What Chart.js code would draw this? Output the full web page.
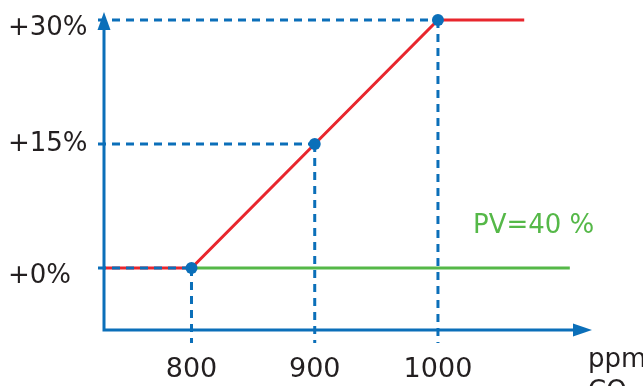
<!DOCTYPE html>
<html><head><meta charset="utf-8">
<script src="https://cdn.jsdelivr.net/npm/chart.js@4"></script>
<style>html,body{margin:0;background:#fff}canvas{display:block}</style>
</head><body>
<canvas id="c" width="643" height="386"></canvas>
<script>
// CO2 concentration breakpoints (ppm) and the matching output boost (%)
const co2Ppm = [800, 900, 1000];
const boostPct = [0, 15, 30];
// red curve: flat below 800 ppm, ramps up to +30 % at 1000 ppm, flat above
const curvePpm = [729, 800, 900, 1000, 1070];
const curvePct = [0, 0, 15, 30, 30];
// green base line
const basePpm = [800, 1107];
const basePct = [0, 0];
// axis ticks and texts
const xTicks = [800, 900, 1000];
const yTicks = [0, 15, 30];
const yTickLabels = ['+0%', '+15%', '+30%'];
const baseLabel = 'PV=40 %';
const unitLines = ['ppm', 'CO₂'];

const BLUE = '#0b6fb9', RED = '#e8262d', GREEN = '#55b848', TEXT = '#231f20';
const FONT = '"DejaVu Sans", sans-serif';

const toPts = (xs, ys) => xs.map((v, i) => ({x: v, y: ys[i]}));

const guides = {
  id: 'guides',
  // dashed reference lines go above the red curve but below the dots
  afterDatasetDraw(chart, args) {
    if (args.index !== 1) return;
    const {ctx, scales: {x, y}} = chart;
    const x0 = x.getPixelForValue(x.min), y0 = y.getPixelForValue(y.min);
    ctx.save();
    ctx.strokeStyle = BLUE; ctx.lineWidth = 3; ctx.setLineDash([8, 6]);
    co2Ppm.forEach((v, i) => {
      const px = x.getPixelForValue(v), py = y.getPixelForValue(boostPct[i]);
      ctx.beginPath(); ctx.moveTo(x0 - 6, py); ctx.lineTo(px, py); ctx.stroke();
      ctx.beginPath(); ctx.moveTo(px, py); ctx.lineTo(px, y0 + 13); ctx.stroke();
    });
    ctx.restore();
  },
  afterDatasetsDraw(chart) {
    const {ctx, scales: {x, y}} = chart;
    const x0 = x.getPixelForValue(x.min), y0 = y.getPixelForValue(y.min);
    const yTop = y.getPixelForValue(y.max), xEnd = x.getPixelForValue(x.max);
    ctx.save();
    ctx.strokeStyle = BLUE; ctx.fillStyle = BLUE; ctx.lineWidth = 3;
    ctx.beginPath();
    ctx.moveTo(x0, y0 + 1.5); ctx.lineTo(x0, yTop + 16);
    ctx.moveTo(x0 - 1.5, y0); ctx.lineTo(xEnd - 17, y0);
    ctx.stroke();
    // arrow heads
    ctx.beginPath();
    ctx.moveTo(x0, yTop); ctx.lineTo(x0 - 6.5, yTop + 18); ctx.lineTo(x0 + 6.5, yTop + 18); ctx.closePath();
    ctx.fill();
    ctx.beginPath();
    ctx.moveTo(xEnd, y0); ctx.lineTo(xEnd - 19, y0 - 6.5); ctx.lineTo(xEnd - 19, y0 + 6.5); ctx.closePath();
    ctx.fill();
    // labels
    ctx.font = '26px ' + FONT;
    ctx.textBaseline = 'alphabetic'; ctx.textAlign = 'left';
    ctx.fillStyle = GREEN;
    ctx.fillText(baseLabel, x.getPixelForValue(1000) + 35, y.getPixelForValue(0) - 35);
    ctx.fillStyle = TEXT;
    ctx.fillText(unitLines[0], xEnd - 4, y0 + 37);
    ctx.fillText(unitLines[1], xEnd - 4, y0 + 69);
    ctx.restore();
  }
};

new Chart(document.getElementById('c'), {
  type: 'line',
  data: {
    datasets: [
      {data: toPts(co2Ppm, boostPct), showLine: false, pointRadius: 6,
       pointBackgroundColor: BLUE, pointBorderWidth: 0, pointHoverRadius: 6},
      {data: toPts(curvePpm, curvePct), borderColor: RED, borderWidth: 3, pointRadius: 0, tension: 0, clip: false},
      {data: toPts(basePpm, basePct), borderColor: GREEN, borderWidth: 3, pointRadius: 0, clip: false}
    ]
  },
  options: {
    responsive: false,
    devicePixelRatio: 1,
    animation: false,
    layout: {padding: {left: 8, right: 51, top: 12, bottom: 0}},
    plugins: {legend: {display: false}, tooltip: {enabled: false}},
    scales: {
      x: {
        type: 'linear', min: 729, max: 1125,
        grid: {display: false, drawTicks: false}, border: {display: false},
        afterBuildTicks: s => { s.ticks = xTicks.map(v => ({value: v})); },
        afterFit: s => { s.height = 56; s.paddingLeft = 0; s.paddingRight = 0; },
        ticks: {color: TEXT, font: {family: FONT, size: 27}, padding: 24, maxRotation: 0,
                callback: v => String(v)}
      },
      y: {
        type: 'linear', min: -7.5, max: 30.97,
        grid: {display: false, drawTicks: false}, border: {display: false},
        afterBuildTicks: s => { s.ticks = yTicks.map(v => ({value: v})); },
        afterFit: s => { s.width = 96; s.paddingTop = 0; s.paddingBottom = 0; },
        ticks: {color: TEXT, font: {family: FONT, size: 26, lineHeight: '16px'}, crossAlign: 'far', padding: 0,
                // the end labels sit a little below their guide lines
                callback: v => {
                  const t = yTickLabels[yTicks.indexOf(v)];
                  return v === 15 ? t : ['', t];
                }}
      }
    }
  },
  plugins: [guides]
});
</script>
</body></html>
